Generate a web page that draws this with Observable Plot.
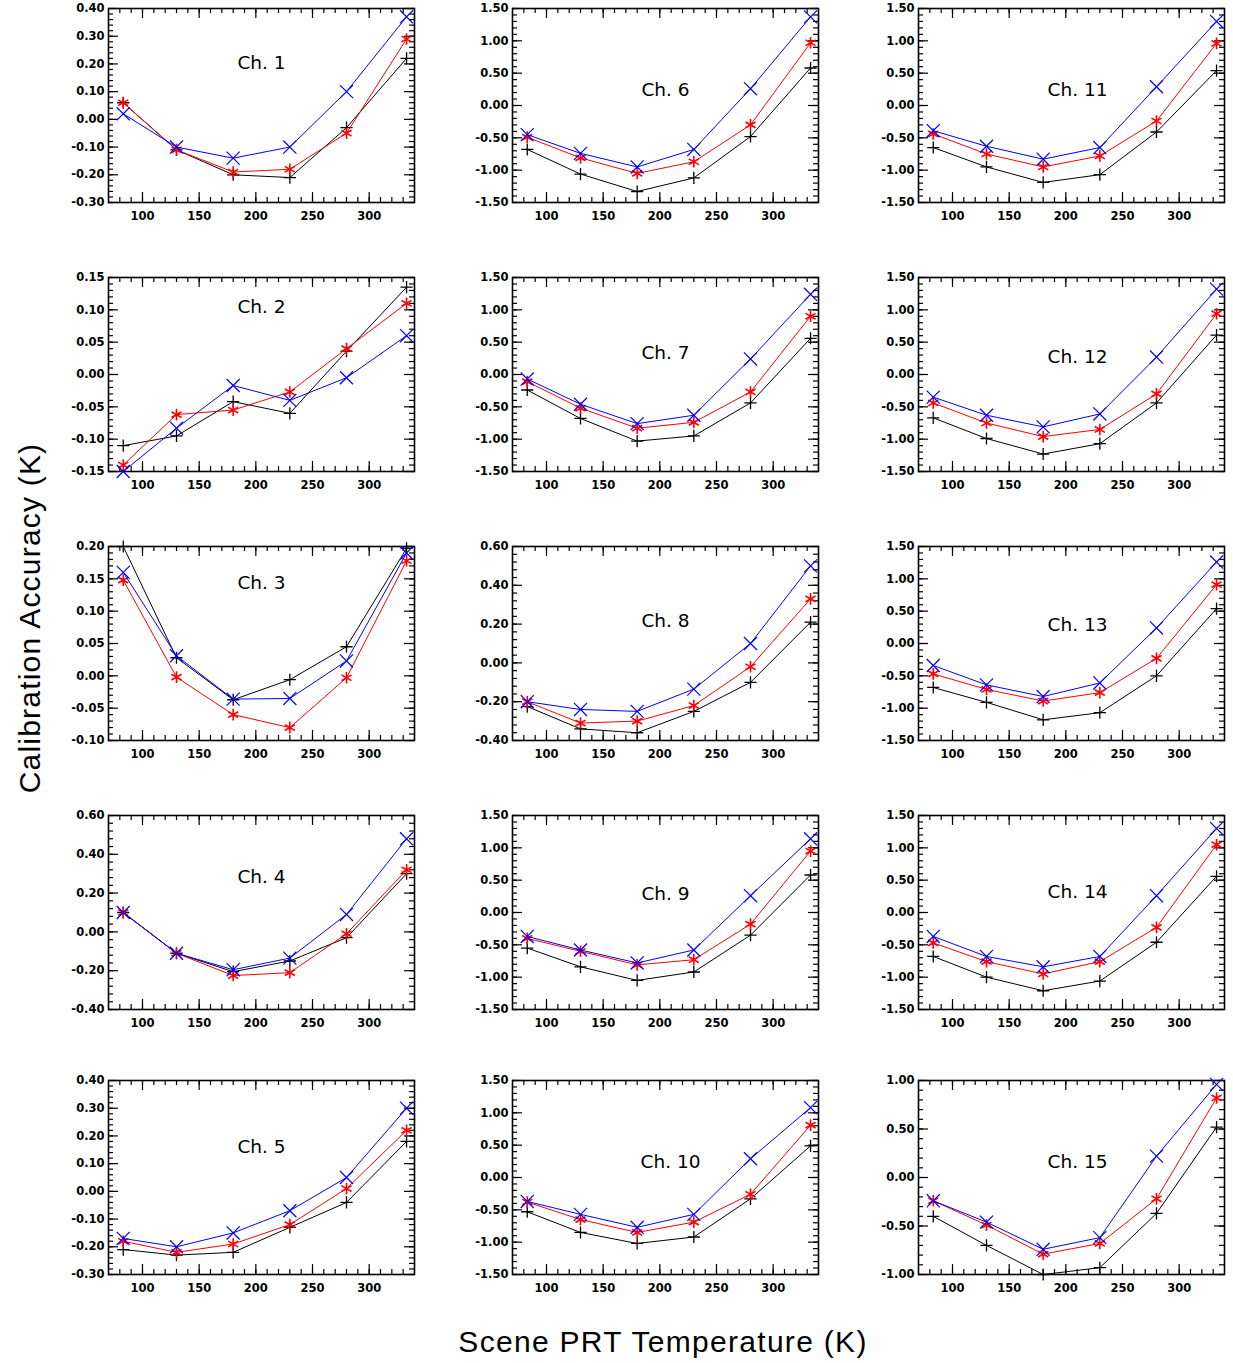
<!DOCTYPE html>
<html><head><meta charset="utf-8">
<script src="https://cdn.jsdelivr.net/npm/d3@7"></script>
<script src="https://cdn.jsdelivr.net/npm/@observablehq/plot@0.6"></script>
<style>
body{margin:0;background:#fff;}
#chart{position:relative;width:1233px;height:1363px;font-family:"Liberation Sans",Arial,sans-serif;overflow:hidden;}
.panel{position:absolute;}
.ylabel{position:absolute;left:30px;top:618px;transform:translate(-50%,-50%) rotate(-90deg);font-size:30px;letter-spacing:1.2px;white-space:nowrap;color:#000;}
.xlabel{position:absolute;left:663px;top:1342px;transform:translate(-50%,-50%);font-size:30px;letter-spacing:1.3px;white-space:nowrap;color:#000;}
</style></head><body>
<div id="chart">
  <div class="ylabel">Calibration Accuracy (K)</div>
  <div class="xlabel">Scene PRT Temperature (K)</div>
</div>
<script>
// ---- data ----
const temps = [83, 130, 180, 230, 280, 333];
const channels = ["Ch. 1","Ch. 2","Ch. 3","Ch. 4","Ch. 5","Ch. 6","Ch. 7","Ch. 8","Ch. 9","Ch. 10","Ch. 11","Ch. 12","Ch. 13","Ch. 14","Ch. 15"];
const seriesBlack = [
  [0.06, -0.11, -0.20, -0.21, -0.03, 0.22],
  [-0.11, -0.095, -0.042, -0.06, 0.036, 0.135],
  [0.20, 0.028, -0.037, -0.006, 0.045, 0.197],
  [0.10, -0.11, -0.205, -0.15, -0.03, 0.30],
  [-0.21, -0.23, -0.22, -0.13, -0.04, 0.18],
  [-0.68, -1.06, -1.33, -1.12, -0.48, 0.58],
  [-0.24, -0.68, -1.03, -0.95, -0.44, 0.56],
  [-0.225, -0.34, -0.36, -0.25, -0.10, 0.21],
  [-0.55, -0.84, -1.05, -0.92, -0.35, 0.58],
  [-0.53, -0.85, -1.02, -0.92, -0.33, 0.49],
  [-0.65, -0.95, -1.19, -1.07, -0.41, 0.54],
  [-0.67, -0.99, -1.23, -1.07, -0.44, 0.61],
  [-0.68, -0.91, -1.18, -1.07, -0.50, 0.54],
  [-0.68, -1.00, -1.21, -1.06, -0.46, 0.56],
  [-0.40, -0.70, -1.00, -0.93, -0.37, 0.52]
];
const seriesRed = [
  [0.06, -0.11, -0.19, -0.18, -0.05, 0.29],
  [-0.14, -0.062, -0.055, -0.027, 0.04, 0.11],
  [0.148, -0.002, -0.06, -0.08, -0.003, 0.178],
  [0.10, -0.11, -0.225, -0.21, -0.01, 0.32],
  [-0.18, -0.22, -0.19, -0.12, 0.01, 0.22],
  [-0.49, -0.81, -1.05, -0.87, -0.30, 0.97],
  [-0.11, -0.52, -0.83, -0.74, -0.27, 0.90],
  [-0.20, -0.31, -0.30, -0.22, -0.02, 0.33],
  [-0.40, -0.60, -0.81, -0.73, -0.18, 0.95],
  [-0.38, -0.65, -0.85, -0.69, -0.26, 0.81],
  [-0.44, -0.75, -0.95, -0.78, -0.24, 0.96],
  [-0.44, -0.75, -0.96, -0.85, -0.30, 0.94],
  [-0.47, -0.71, -0.89, -0.76, -0.23, 0.91],
  [-0.47, -0.76, -0.95, -0.76, -0.23, 1.05],
  [-0.24, -0.49, -0.79, -0.68, -0.22, 0.82]
];
const seriesBlue = [
  [0.02, -0.10, -0.14, -0.10, 0.10, 0.37],
  [-0.15, -0.083, -0.017, -0.04, -0.005, 0.06],
  [0.16, 0.031, -0.036, -0.035, 0.023, 0.19],
  [0.10, -0.11, -0.195, -0.135, 0.09, 0.48],
  [-0.17, -0.20, -0.15, -0.07, 0.05, 0.30],
  [-0.45, -0.74, -0.95, -0.68, 0.26, 1.37],
  [-0.07, -0.46, -0.76, -0.63, 0.24, 1.24],
  [-0.20, -0.24, -0.25, -0.135, 0.10, 0.50],
  [-0.37, -0.58, -0.78, -0.58, 0.26, 1.14],
  [-0.37, -0.57, -0.77, -0.57, 0.29, 1.08],
  [-0.39, -0.63, -0.83, -0.65, 0.29, 1.30],
  [-0.35, -0.63, -0.81, -0.61, 0.27, 1.32],
  [-0.34, -0.64, -0.82, -0.61, 0.24, 1.26],
  [-0.37, -0.68, -0.84, -0.68, 0.26, 1.30],
  [-0.24, -0.46, -0.74, -0.62, 0.22, 0.96]
];
const yDomains = [
  [-0.30, 0.40], [-0.15, 0.15], [-0.10, 0.20], [-0.40, 0.60], [-0.30, 0.40],
  [-1.5, 1.5], [-1.5, 1.5], [-0.40, 0.60], [-1.5, 1.5], [-1.5, 1.5],
  [-1.5, 1.5], [-1.5, 1.5], [-1.5, 1.5], [-1.5, 1.5], [-1.0, 1.0]
];
const yTickSteps = [0.1, 0.05, 0.05, 0.2, 0.1, 0.5, 0.5, 0.2, 0.5, 0.5, 0.5, 0.5, 0.5, 0.5, 0.5];
const xDomain = [70, 340];
const xTicks = [100, 150, 200, 250, 300];
const xMinorStep = 10;

// ---- layout ----
const colLeft = [108, 512, 918];
const rowTop = [8, 277, 546, 815, 1080];
const innerW = 306, innerH = 194;
const mL = 60, mR = 4, mT = 6, mB = 30;
const titleDy = [55, 30, 37, 62, 67, 82, 76, 75, 79, 82, 82, 80, 79, 77, 82];
const titleDx = [0, 0, 0, 0, 0, 0, 0, 0, 0, 5, 6, 6, 6, 6, 6];

const colors = {black: "#000", red: "#ff0000", blue: "#0000ff"};
const chart = document.getElementById("chart");

function makeTicks(lo, hi, step) {
  const n = Math.round((hi - lo) / step);
  return d3.range(n + 1).map(k => +(lo + k * step).toFixed(5));
}

channels.forEach((name, i) => {
  const [lo, hi] = yDomains[i];
  const step = yTickSteps[i];
  const yMajor = makeTicks(lo, hi, step);
  const yMinor = makeTicks(lo, hi, step / 5);
  const xMinor = makeTicks(xDomain[0], xDomain[1], xMinorStep).filter(v => v > xDomain[0] && v < xDomain[1]);
  const rows = k => temps.map((t, j) => ({t, v: [seriesBlack, seriesRed, seriesBlue][k][i][j]}));
  const dBlack = rows(0), dRed = rows(1), dBlue = rows(2);
  const fontCss = {fontFamily: '"DejaVu Sans", sans-serif', fontSize: "11.5px", fontWeight: "bold"};
  const p = Plot.plot({
    width: innerW + mL + mR,
    height: innerH + mT + mB,
    marginLeft: mL, marginRight: mR, marginTop: mT, marginBottom: mB,
    style: {background: "transparent", overflow: "visible", color: "#000"},
    x: {domain: xDomain},
    y: {domain: [lo, hi]},
    marks: [
      Plot.ruleX(xMinor, {insetTop: innerH - 5, stroke: "#000", strokeWidth: 1.2}),
      Plot.ruleX(xMinor, {insetBottom: innerH - 5, stroke: "#000", strokeWidth: 1.2}),
      Plot.ruleX(xTicks, {insetTop: innerH - 10, stroke: "#000", strokeWidth: 1.2}),
      Plot.ruleX(xTicks, {insetBottom: innerH - 10, stroke: "#000", strokeWidth: 1.2}),
      Plot.ruleY(yMinor, {insetRight: innerW - 5, stroke: "#000", strokeWidth: 1.2}),
      Plot.ruleY(yMinor, {insetLeft: innerW - 5, stroke: "#000", strokeWidth: 1.2}),
      Plot.ruleY(yMajor, {insetRight: innerW - 10, stroke: "#000", strokeWidth: 1.2}),
      Plot.ruleY(yMajor, {insetLeft: innerW - 10, stroke: "#000", strokeWidth: 1.2}),
      Plot.frame({stroke: "#000", strokeWidth: 1.6}),
      Plot.axisX({ticks: xTicks, tickSize: 0, tickPadding: 9, tickFormat: d => String(d), ...fontCss, label: null}),
      Plot.axisY({ticks: yMajor, tickSize: 0, tickPadding: 4, tickFormat: d => d.toFixed(2), ...fontCss, label: null}),
      Plot.text([name], {frameAnchor: "top", lineAnchor: "middle", dy: titleDy[i], dx: titleDx[i], fontSize: 18.5, fontFamily: '"DejaVu Sans", sans-serif', fill: "#000"}),
      Plot.line(dBlack, {x: "t", y: "v", stroke: colors.black, strokeWidth: 1}),
      Plot.dot(dBlack, {x: "t", y: "v", symbol: "plus", r: 4, stroke: colors.black, strokeWidth: 1.3}),
      Plot.line(dRed, {x: "t", y: "v", stroke: colors.red, strokeWidth: 1}),
      Plot.dot(dRed, {x: "t", y: "v", symbol: "asterisk", r: 5.5, stroke: colors.red, strokeWidth: 1.6}),
      Plot.line(dBlue, {x: "t", y: "v", stroke: colors.blue, strokeWidth: 1}),
      Plot.dot(dBlue, {x: "t", y: "v", symbol: "times", r: 6, stroke: colors.blue, strokeWidth: 1.2})
    ]
  });
  const col = Math.floor(i / 5), row = i % 5;
  p.classList.add("panel");
  p.style.left = (colLeft[col] - mL) + "px";
  p.style.top = (rowTop[row] - mT) + "px";
  chart.appendChild(p);
});
</script>
</body></html>
